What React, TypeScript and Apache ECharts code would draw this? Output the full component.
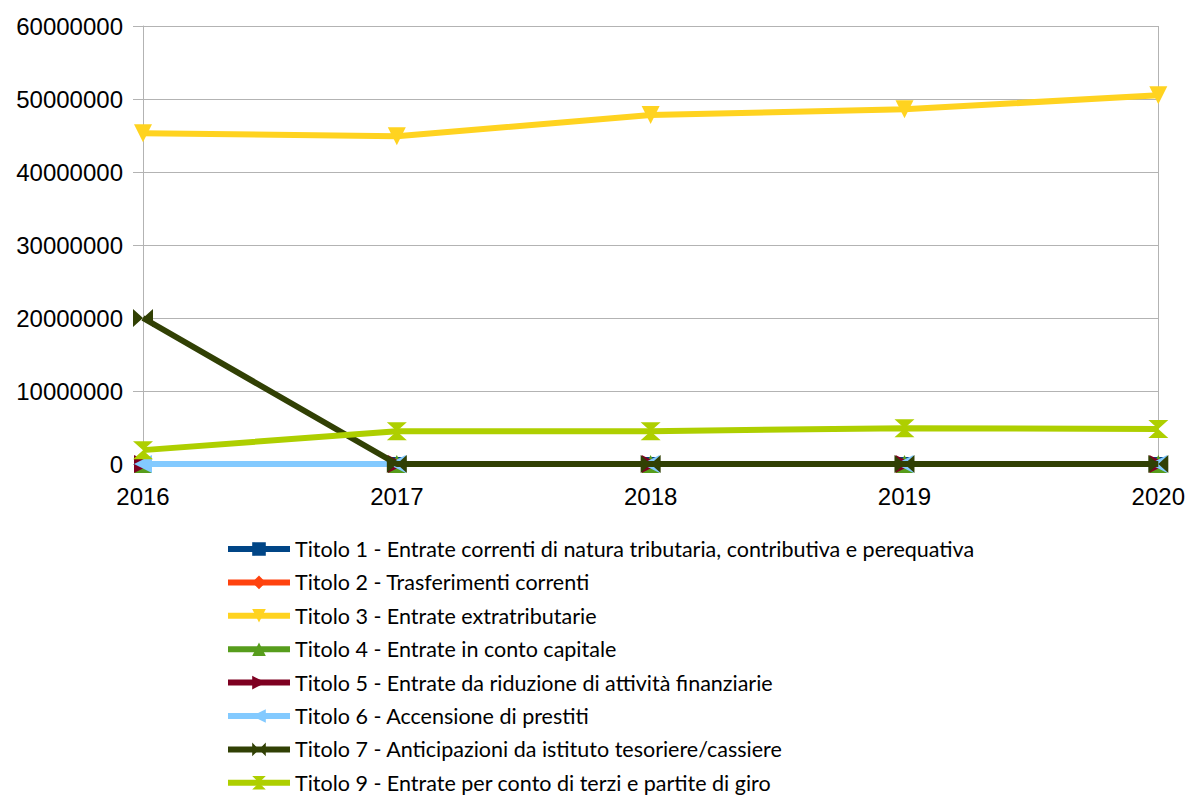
import React, { useEffect, useRef } from "react";
import * as echarts from "echarts";

const years = ["2016", "2017", "2018", "2019", "2020"];
const seriesNames = [
  "Titolo 1 - Entrate correnti di natura tributaria, contributiva e perequativa",
  "Titolo 2 - Trasferimenti correnti",
  "Titolo 3 - Entrate extratributarie",
  "Titolo 4 - Entrate in conto capitale",
  "Titolo 5 - Entrate da riduzione di attività finanziarie",
  "Titolo 6 - Accensione di prestiti",
  "Titolo 7 - Anticipazioni da istituto tesoriere/cassiere",
  "Titolo 9 - Entrate per conto di terzi e partite di giro",
];
const titolo1 = [0, 0, 0, 0, 0];
const titolo2 = [0, 0, 0, 0, 0];
const titolo3 = [45300000, 44900000, 47800000, 48600000, 50500000];
const titolo4 = [0, 0, 0, 0, 0];
const titolo5 = [0, 0, 0, 0, 0];
const titolo6 = [0, 0, 0, 0, 0];
const titolo7 = [20000000, 0, 0, 0, 0];
const titolo9 = [1900000, 4500000, 4500000, 4900000, 4800000];
const seriesValues = [titolo1, titolo2, titolo3, titolo4, titolo5, titolo6, titolo7, titolo9];
const colors = ["#004586", "#ff420e", "#ffd320", "#579d1c", "#7e0021", "#83caff", "#314004", "#aecf00"];

const BOWTIE = "path://M0,0 L10,5 L0,10 Z M20,0 L10,5 L20,10 Z";
const HOURGLASS = "path://M0,0 L20,0 L10,10 Z M0,20 L20,20 L10,10 Z";
const symbols: any[] = [
  { symbol: "rect", rotate: 0, size: 14 },
  { symbol: "diamond", rotate: 0, size: 14 },
  { symbol: "triangle", rotate: 180, size: 18 },
  { symbol: "triangle", rotate: 0, size: 18 },
  { symbol: "triangle", rotate: -90, size: 18 },
  { symbol: "triangle", rotate: 90, size: 18 },
  { symbol: BOWTIE, rotate: 0, size: [20, 18] },
  { symbol: HOURGLASS, rotate: 0, size: [20, 18] },
];

export default function App() {
  const ref = useRef<HTMLDivElement>(null);
  useEffect(() => {
    if (!ref.current) return;
    const chart = echarts.init(ref.current, null, { renderer: "svg" });
    chart.setOption({
      animation: false,
      backgroundColor: "#ffffff",
      grid: { left: 143, right: 28, top: 26, bottom: 332, containLabel: false },
      xAxis: {
        type: "category",
        data: years,
        boundaryGap: false,
        axisLine: { show: true, lineStyle: { color: "#b3b3b3", width: 1 } },
        axisTick: { show: true, length: 6, lineStyle: { color: "#b3b3b3" } },
        axisLabel: { color: "#000", fontSize: 24, fontFamily: "Liberation Sans", margin: 20 },
        splitLine: { show: true, interval: (i: number) => i === 4, lineStyle: { color: "#b3b3b3" } },
      },
      yAxis: {
        type: "value",
        min: 0,
        max: 60000000,
        interval: 10000000,
        axisLine: { show: true, lineStyle: { color: "#b3b3b3", width: 1 } },
        axisTick: { show: true, length: 10, lineStyle: { color: "#b3b3b3" } },
        axisLabel: {
          color: "#000",
          fontSize: 24,
          fontFamily: "Liberation Sans",
          margin: 20,
          formatter: (v: number) => String(v),
        },
        splitLine: { show: true, lineStyle: { color: "#b3b3b3" } },
      },
      legend: {
        orient: "vertical",
        left: 225,
        top: 538,
        height: 400,
        padding: 0,
        itemWidth: 62,
        itemHeight: 17,
        itemGap: 11.4,
        data: seriesNames,
        lineStyle: { width: 6 },
        textStyle: { color: "#000", fontSize: 21.5, fontFamily: "Lato" },
      },
      series: seriesNames.map((name, i) => ({
        name,
        type: "line",
        data: seriesValues[i],
        color: colors[i],
        lineStyle: { width: 6, color: colors[i] },
        itemStyle: { color: colors[i] },
        symbol: symbols[i].symbol,
        symbolRotate: symbols[i].rotate,
        symbolSize: symbols[i].size,
        showAllSymbol: true,
        z: 2 + i,
      })),
    });
    return () => chart.dispose();
  }, []);
  return <div ref={ref} style={{ width: 1188, height: 796, position: "absolute", left: 0, top: 0 }} />;
}
